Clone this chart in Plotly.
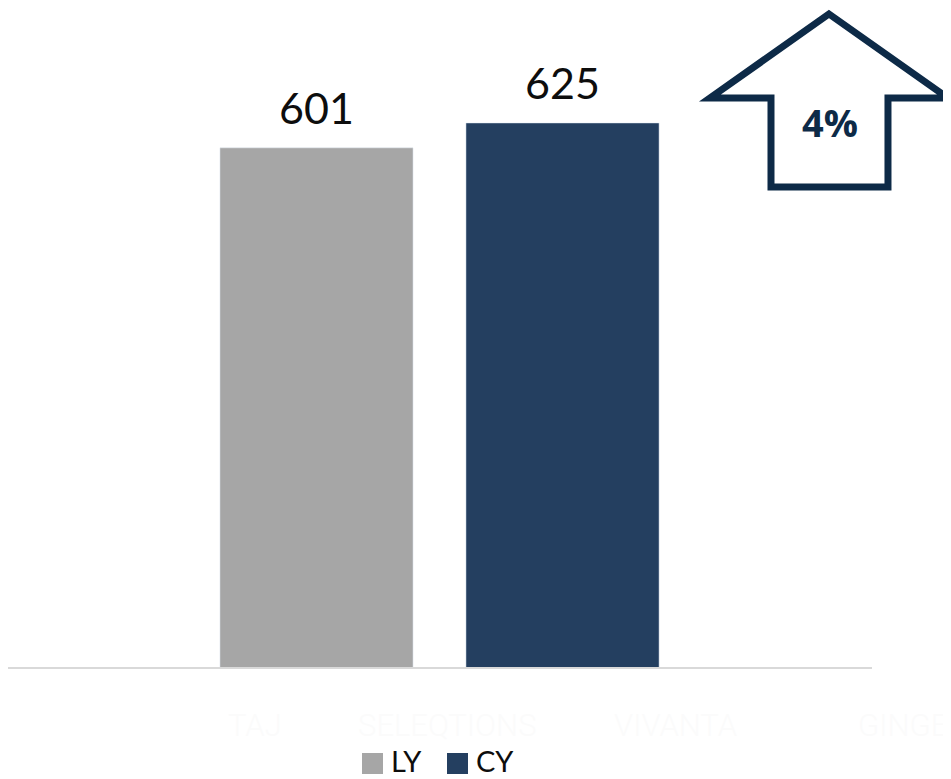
import plotly.graph_objects as go

# data
series = ['LY', 'CY']
values = [601, 625]
bar_colors = ['#a6a6a6', '#243f60']
change_label = '4%'
watermark_brands = ['TAJ', 'SELEQTIONS', 'VIVANTA', 'GINGER']

# page body has an 8px margin, so the figure is 8px smaller than the window
PAGE_OFF = 8
W, H = 943, 771
M_L, M_R, M_T, M_B = 0, 79, 2, 112
PLOT_W = W - M_L - M_R
PLOT_H = H - M_T - M_B


def px_to_paper(x, y):
    # window pixels -> paper coords, only used for decoration (arrow, legend, watermark)
    x, y = x - PAGE_OFF, y - PAGE_OFF
    return (x - M_L) / PLOT_W, (H - M_B - y) / PLOT_H


fig = go.Figure()
for name, val, col in zip(series, values, bar_colors):
    fig.add_trace(go.Bar(x=[name], y=[val], name=name, marker_color=col,
                         width=0.785, showlegend=False, hoverinfo='x+y'))

annotations = []
for name, val in zip(series, values):
    annotations.append(dict(x=name, y=val, xref='x', yref='y', text=f'{val:,}',
                            showarrow=False, yanchor='bottom', yshift=13,
                            font=dict(family='Lato', size=43, color='#0d0d0d')))

# up arrow outline with the change
arrow_pts = [(829, 14), (948, 98), (888, 98), (888, 187), (771, 187), (771, 98), (710, 98)]
path = 'M ' + ' L '.join(f'{px_to_paper(x, y)[0]:.4f},{px_to_paper(x, y)[1]:.4f}' for x, y in arrow_pts) + ' Z'
shapes = [dict(type='path', xref='paper', yref='paper', path=path,
               line=dict(color='#0d2a47', width=7), fillcolor='rgba(0,0,0,0)', layer='above')]
ax, ay = px_to_paper(829.5, 122)
annotations.append(dict(x=ax, y=ay, xref='paper', yref='paper', text=f'<b>{change_label}</b>',
                        showarrow=False, xanchor='center', yanchor='middle',
                        font=dict(family='Open Sans', size=38, color='#0d2a47', weight=700)))

# legend drawn by hand so the swatches match the larger squares
legend_items = [(series[0], bar_colors[0], 362, 392), (series[1], bar_colors[1], 447, 477)]
for name, col, sx, tx in legend_items:
    x0, y0 = px_to_paper(sx, 774)
    x1, y1 = px_to_paper(sx + 21, 753)
    shapes.append(dict(type='rect', xref='paper', yref='paper', x0=x0, y0=y0, x1=x1, y1=y1,
                       fillcolor=col, line=dict(width=0)))
    lx, ly = px_to_paper(tx - 2, 761)
    annotations.append(dict(x=lx, y=ly, xref='paper', yref='paper', text=name, showarrow=False,
                            xanchor='left', yanchor='middle', borderpad=0,
                            font=dict(family='Lato', size=29, color='#0d0d0d')))

# faint brand watermark
for brand, bx in zip(watermark_brands, [227, 357, 613, 857]):
    wx, wy = px_to_paper(bx, 725)
    annotations.append(dict(x=wx, y=wy, xref='paper', yref='paper', text=brand, showarrow=False,
                            xanchor='left', yanchor='middle', borderpad=0,
                            font=dict(family='Roboto', size=31, color='#fbfbfb', weight=300)))

fig.update_layout(
    width=W, height=H,
    margin=dict(l=M_L, r=M_R, t=M_T, b=M_B),
    paper_bgcolor='white', plot_bgcolor='white',
    barmode='overlay',
    showlegend=False,
    xaxis=dict(range=[-1.254, 2.258], showticklabels=False, showgrid=False,
               showline=True, linecolor='#d9d9d9', linewidth=2, zeroline=False),
    yaxis=dict(range=[100, 734], visible=False),
    shapes=shapes,
    annotations=annotations,
)

fig.write_html('out.html')
